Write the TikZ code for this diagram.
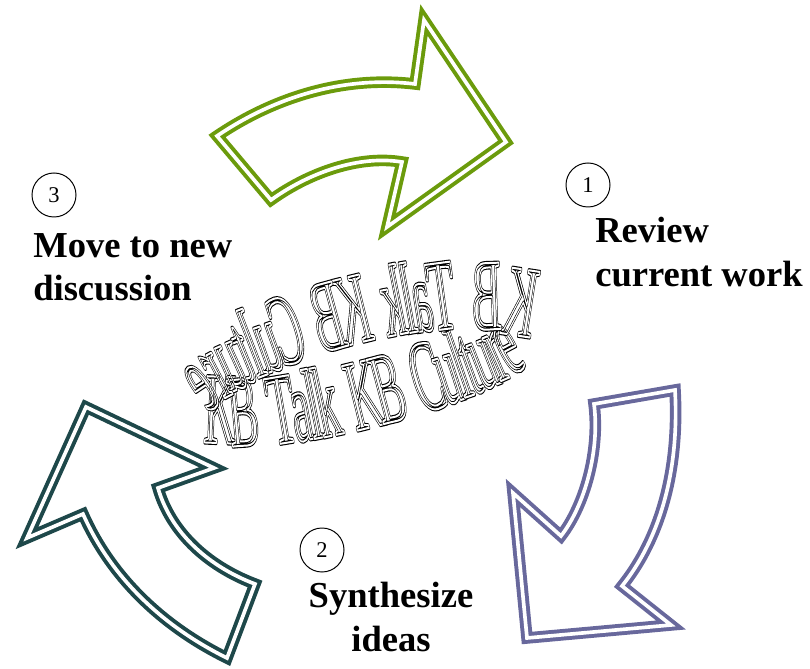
\documentclass[tikz,border=0pt]{standalone}
\usepackage{fontspec}
\setmainfont{Liberation Serif}
\definecolor{cycgreen}{RGB}{107,155,12}
\definecolor{cycpurple}{RGB}{104,104,156}
\definecolor{cycteal}{RGB}{30,72,74}
% hollow (outlined) letters for the ring
\newcommand\hollowch[1]{\special{pdf:literal direct 1 Tr 1 j 3.0 w}\rlap{#1}\special{pdf:literal direct 1.4 w}\textcolor{white}{#1}\special{pdf:literal direct 0 Tr}}

\begin{document}
\begin{tikzpicture}[x=0.025cm,y=-0.025cm,
    cycarrow/.style={line width=2.8pt,double=white,double distance=2.6pt,line join=miter},
    numcirc/.style={circle,draw,line width=0.7pt,minimum size=1.1cm,inner sep=0pt,font=\fontsize{16}{16}\selectfont},
    steplbl/.style={inner sep=0pt,align=left,font=\fontsize{26}{31}\selectfont\bfseries},
    ringch/.style={inner sep=0pt,anchor=base,font=\fontsize{72}{72}\selectfont}]
  \useasboundingbox (0,0) rectangle (810,669);

  % the three arrows
  \draw[cycarrow,draw=cycgreen] (271,200) .. controls (310,172) and (360,155) .. (402,162) -- (387,227) -- (506,142) -- (424,20) -- (415,84) .. controls (340,75) and (270,100) .. (217,136) -- cycle;
  \draw[cycarrow,draw=cycpurple] (594,404) .. controls (600,450) and (585,505) .. (561,536) -- (513,493) -- (527,638) -- (671,625) -- (622,586) .. controls (655,545) and (680,480) .. (675,390) -- cycle;
  \draw[cycarrow,draw=cycteal] (227,658) .. controls (160,625) and (110,575) .. (83,514) -- (27,538) -- (86,407) -- (214,468) -- (158,488) .. controls (170,530) and (205,565) .. (255,584) -- cycle;

  % ring of text, front row then mirrored back row
  \foreach \rep/\dir/\bb in {1/1/35,2/-1/50}{
    \gdef\cum{0}
    \foreach \ch/\w/\gap [count=\i] in {K/7.22/0,B/6.67/4.5,T/6.11/0,a/4.44/0,l/2.78/0,k/5.00/4.5,K/7.22/0,B/6.67/4.5,C/6.67/0,u/5.00/0,l/2.78/0,t/2.78/0,u/5.00/0,r/3.33/0,e/4.44/4.5}{
      \pgfmathsetmacro\rc{\dir*max(-0.995,min(0.995,-1+2.04*(\cum+\w/2)/94.11))}
      \pgfmathsetmacro\rs{\dir*sqrt(1-(\rc)*(\rc))}
      \pgfmathsetmacro\px{368+170*(\rc)*0.9703+\bb*(\rs)*0.2419}
      \pgfmathsetmacro\py{392-170*(\rc)*0.2419+\bb*(\rs)*0.9703}
      \pgfmathsetmacro\ddx{1.7*abs(\rs)*0.9703-0.006*\bb*(\rc)*\dir*0.2419}
      \pgfmathsetmacro\ddy{1.7*abs(\rs)*0.2419+0.006*\bb*(\rc)*\dir*0.9703}
      \pgfmathsetmacro\rot{atan2(\ddy,\ddx)}
      \node[ringch,rotate=\rot,xscale=\dir*0.44] (r\rep-\i) at (\px,\py) {\hollowch{\ch}};
      \pgfmathsetmacro\nc{\cum+\w+\gap}
      \xdef\cum{\nc}
    }
  }

  % steps
  \node[numcirc] (n1) at (588,185) {1};
  \node[numcirc] (n2) at (322,550) {2};
  \node[numcirc] (n3) at (54,195) {3};
  \node[steplbl,anchor=north west] (s1) at (595,217) {Review\\current work};
  \node[steplbl,anchor=north,align=center] (s2) at (391,582) {Synthesize\\ideas};
  \node[steplbl,anchor=north west] (s3) at (33,233) {Move to new\\discussion};
\end{tikzpicture}
\end{document}
